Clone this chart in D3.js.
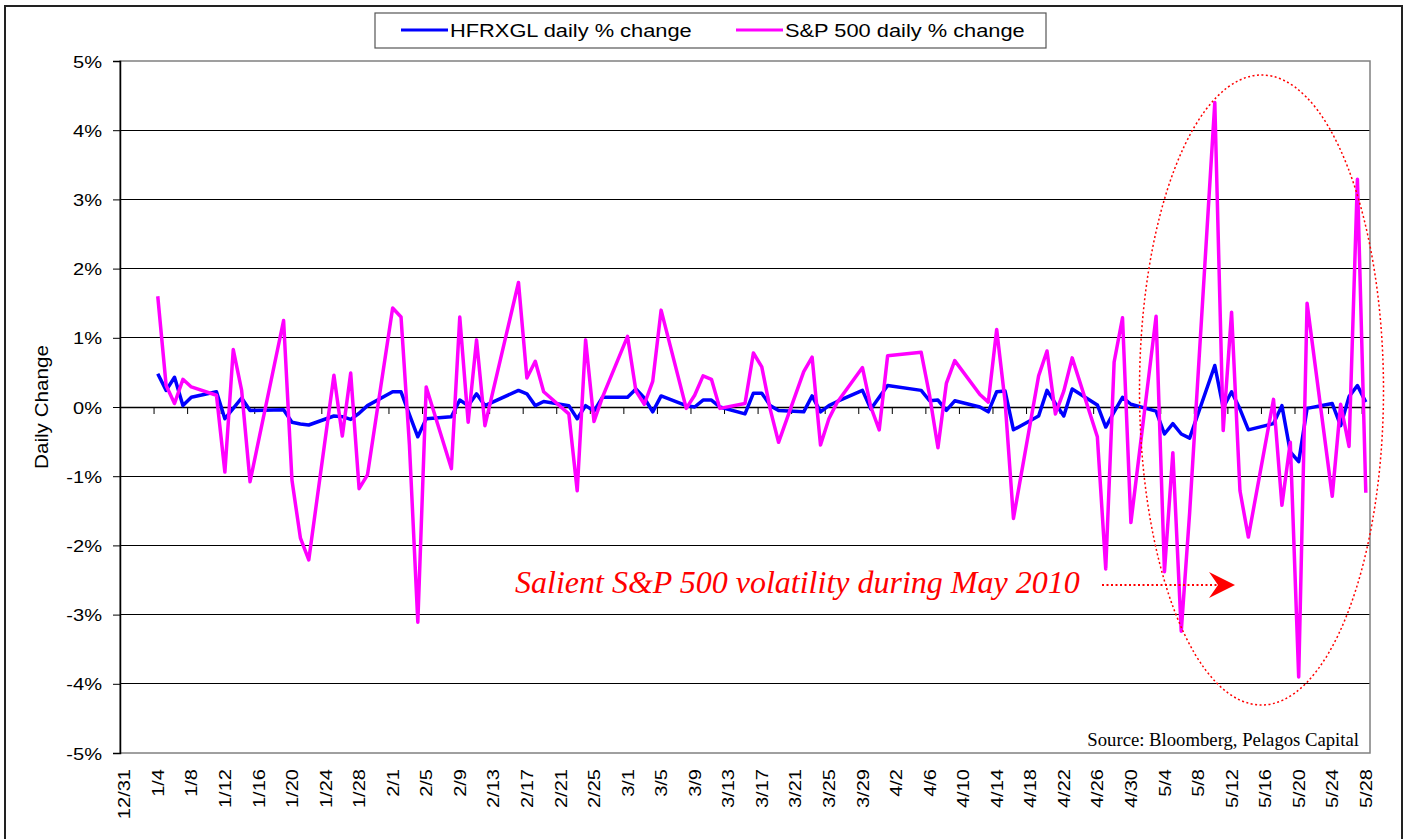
<!DOCTYPE html>
<html>
<head>
<meta charset="utf-8">
<script src="https://cdn.jsdelivr.net/npm/d3@7"></script>
<style>
  body { margin: 0; background: #fff; }
  svg { display: block; }
  .sans { font-family: Arial, "Liberation Sans", sans-serif; fill: #000; }
  .serif { font-family: "Times New Roman", "Liberation Serif", serif; }
</style>
</head>
<body>
<div id="chart"></div>
<script>
// trading days (Jan 4 - May 28 2010)
const dates = [
  '1/4','1/5','1/6','1/7','1/8','1/11','1/12','1/13','1/14','1/15','1/19','1/20','1/21','1/22','1/25','1/26','1/27','1/28','1/29',
  '2/1','2/2','2/3','2/4','2/5','2/8','2/9','2/10','2/11','2/12','2/16','2/17','2/18','2/19','2/22','2/23','2/24','2/25','2/26',
  '3/1','3/2','3/3','3/4','3/5','3/8','3/9','3/10','3/11','3/12','3/15','3/16','3/17','3/18','3/19','3/22','3/23','3/24','3/25','3/26','3/29','3/30','3/31',
  '4/1','4/5','4/6','4/7','4/8','4/9','4/12','4/13','4/14','4/15','4/16','4/19','4/20','4/21','4/22','4/23','4/26','4/27','4/28','4/29','4/30',
  '5/3','5/4','5/5','5/6','5/7','5/10','5/11','5/12','5/13','5/14','5/17','5/18','5/19','5/20','5/21','5/24','5/25','5/26','5/27','5/28'
];

// daily % change, S&P 500
const sp500Change = [
  1.60, 0.31, 0.05, 0.40, 0.29, 0.17, -0.94, 0.83, 0.24, -1.08, 1.25, -1.06, -1.89, -2.21, 0.46, -0.42, 0.49, -1.18, -0.98,
  1.43, 1.30, -0.55, -3.11, 0.29, -0.89, 1.30, -0.22, 0.97, -0.27, 1.80, 0.42, 0.66, 0.22, -0.10, -1.21, 0.97, -0.21, 0.14,
  1.02, 0.23, 0.04, 0.37, 1.40, -0.02, 0.17, 0.45, 0.40, -0.02, 0.05, 0.78, 0.58, -0.03, -0.51, 0.51, 0.72, -0.55, -0.17, 0.07, 0.57, 0.00, -0.33,
  0.74, 0.79, 0.17, -0.59, 0.34, 0.67, 0.18, 0.07, 1.12, 0.08, -1.61, 0.45, 0.81, -0.10, 0.23, 0.71, -0.43, -2.34, 0.65, 1.29, -1.67,
  1.31, -2.38, -0.66, -3.24, -1.53, 4.40, -0.34, 1.37, -1.21, -1.88, 0.11, -1.42, -0.51, -3.90, 1.50, -1.29, 0.04, -0.57, 3.29, -1.24
];

// daily % change, HFRX Global Hedge Fund index
const hfrxglChange = [
  0.48, 0.24, 0.43, 0.02, 0.14, 0.22, -0.17, -0.02, 0.13, -0.05, -0.04, -0.22, -0.245, -0.26, -0.13, -0.14, -0.18, -0.09, 0.02,
  0.22, 0.22, -0.11, -0.43, -0.17, -0.14, 0.10, 0.02, 0.19, 0.02, 0.24, 0.19, 0.02, 0.08, 0.02, -0.17, 0.02, -0.06, 0.14,
  0.14, 0.26, 0.13, -0.07, 0.16, 0.02, 0.00, 0.10, 0.10, 0.00, -0.10, 0.20, 0.20, 0.02, -0.05, -0.07, 0.16, -0.07, 0.02, 0.08, 0.24, -0.03, 0.14,
  0.31, 0.24, 0.09, 0.10, -0.05, 0.09, 0.00, -0.07, 0.22, 0.23, -0.33, -0.13, 0.24, 0.05, -0.13, 0.26, 0.03, -0.29, -0.07, 0.14, 0.04,
  -0.06, -0.39, -0.24, -0.39, -0.45, 0.60, -0.01, 0.22, -0.03, -0.33, -0.24, 0.02, -0.65, -0.79, -0.02, 0.05, -0.27, 0.15, 0.31, 0.07
];

const xTickLabels = [
  '12/31','1/4','1/8','1/12','1/16','1/20','1/24','1/28','2/1','2/5','2/9','2/13','2/17','2/21','2/25',
  '3/1','3/5','3/9','3/13','3/17','3/21','3/25','3/29','4/2','4/6','4/10','4/14','4/18','4/22','4/26','4/30',
  '5/4','5/8','5/12','5/16','5/20','5/24','5/28'
];
const yTickValues = [-5, -4, -3, -2, -1, 0, 1, 2, 3, 4, 5];

const seriesNames = ['HFRXGL daily % change', 'S&P 500 daily % change'];
const seriesColors = ['#0000ff', '#ff00ff'];
const yLabel = 'Daily Change';
const sourceLabel = 'Source: Bloomberg, Pelagos Capital';
const noteLabel = 'Salient S&P 500 volatility during May 2010';

// chart static params
const width = 1408, height = 839;
const plot = {left: 120, right: 1370, top: 61, bottom: 753};
const textStretch = 1.18;   // the sans labels in the original are a bit wide

const parseMD = s => {
  const [m, d] = s.split('/').map(Number);
  return new Date(Date.UTC(m === 12 ? 2009 : 2010, m - 1, d));
};
const midDay = dt => d3.utcHour.offset(dt, 12);

// set scales
const xScale = d3.scaleUtc()
    .domain([parseMD('12/31'), parseMD('5/29')])
    .range([plot.left, plot.right]);

const yScale = d3.scaleLinear()
    .domain([-5, 5])
    .range([plot.bottom, plot.top]);

const svg = d3.select('#chart')
  .append('svg')
    .attr('width', width)
    .attr('height', height);

// stretched text helper
const place = (sel, x, y, rot) =>
  sel.attr('transform', `translate(${x},${y})${rot ? ` rotate(${rot})` : ''} scale(${textStretch},1)`);

// outer chart border
svg.append('rect')
    .attr('x', 5).attr('y', 6)
    .attr('width', 1397).attr('height', 845)
    .attr('fill', 'none')
    .attr('stroke', '#222')
    .attr('stroke-width', 2);

// horizontal grid lines
svg.append('g')
  .selectAll('line')
  .data(yTickValues.filter(v => Math.abs(v) < 5))
  .join('line')
    .attr('x1', plot.left).attr('x2', plot.right)
    .attr('y1', d => yScale(d)).attr('y2', d => yScale(d))
    .attr('stroke', '#000')
    .attr('stroke-width', 1)
    .attr('shape-rendering', 'crispEdges');

// plot area border (gray)
svg.append('rect')
    .attr('x', plot.left).attr('y', plot.top)
    .attr('width', plot.right - plot.left).attr('height', plot.bottom - plot.top)
    .attr('fill', 'none')
    .attr('stroke', '#808080')
    .attr('stroke-width', 1.5);

// add Y axis
const yAxis = d3.axisLeft(yScale)
    .tickValues(yTickValues)
    .tickSize(7)
    .tickFormat(d => d + '%');
const yAxisSvg = svg.append('g')
    .attr('transform', `translate(${plot.left},0)`)
    .call(yAxis);
yAxisSvg.select('.domain').attr('stroke', '#000').attr('stroke-width', 1.5);
yAxisSvg.selectAll('.tick line').attr('stroke', '#000');
yAxisSvg.selectAll('.tick text')
    .attr('class', 'sans')
    .attr('font-size', 17)
    .attr('x', null).attr('dy', null)
    .each(function(d) { place(d3.select(this), -18, 0, 0); })
    .attr('dy', '0.36em');

// add X axis (crosses at 0)
const xTickDates = xTickLabels.map(parseMD);
const xAxis = d3.axisBottom(xScale)
    .tickValues(xTickDates)
    .tickSize(7)
    .tickSizeOuter(0)
    .tickFormat('');
const xAxisSvg = svg.append('g')
    .attr('transform', `translate(0,${yScale(0)})`)
    .call(xAxis);
xAxisSvg.select('.domain').attr('stroke', '#000').attr('stroke-width', 1.5);
xAxisSvg.selectAll('.tick line').attr('stroke', '#000');

// x tick labels, low position, rotated
svg.append('g')
  .selectAll('text')
  .data(xTickLabels)
  .join('text')
    .attr('class', 'sans')
    .attr('font-size', 17)
    .attr('text-anchor', 'end')
    .attr('dy', '0.36em')
    .each(function(d) { place(d3.select(this), xScale(midDay(parseMD(d))), 769, -90); })
    .text(d => d);

// add label left
svg.append('text')
    .attr('class', 'sans')
    .attr('font-size', 17.5)
    .attr('text-anchor', 'middle')
    .call(s => place(s, 48, yScale(0), -90))
    .text(yLabel);

// lines
const rows = dates.map((d, i) => ({date: midDay(parseMD(d)), hfrx: hfrxglChange[i], spx: sp500Change[i]}));
const lineOf = key => d3.line()
    .x(d => xScale(d.date))
    .y(d => yScale(d[key]));

const lineArea = svg.append('g');
[['hfrx', 0], ['spx', 1]].forEach(([key, i]) => {
  lineArea.append('path')
      .datum(rows)
      .attr('fill', 'none')
      .attr('stroke', seriesColors[i])
      .attr('stroke-width', 3.5)
      .attr('stroke-linejoin', 'round')
      .attr('d', lineOf(key));
});

// legend
const legend = svg.append('g');
legend.append('rect')
    .attr('x', 375).attr('y', 13)
    .attr('width', 671).attr('height', 35)
    .attr('fill', '#fff')
    .attr('stroke', '#555')
    .attr('stroke-width', 1.2);
const legendX = [401, 736];
seriesNames.forEach((name, i) => {
  legend.append('line')
      .attr('x1', legendX[i]).attr('x2', legendX[i] + 47)
      .attr('y1', 30).attr('y2', 30)
      .attr('stroke', seriesColors[i])
      .attr('stroke-width', 3);
  legend.append('text')
      .attr('class', 'sans')
      .attr('font-size', 18.5)
      .attr('dy', '0.36em')
      .call(s => place(s, legendX[i] + 49, 30, 0))
      .text(name);
});

// source note
svg.append('text')
    .attr('class', 'serif')
    .attr('font-size', 18.7)
    .attr('text-anchor', 'end')
    .attr('x', 1359).attr('y', 746)
    .text(sourceLabel);

// annotation: ellipse round May
svg.append('ellipse')
    .attr('cx', 1261.5).attr('cy', 390)
    .attr('rx', 122).attr('ry', 315)
    .attr('fill', 'none')
    .attr('stroke', '#ff0000')
    .attr('stroke-width', 1.5)
    .attr('stroke-dasharray', '2,2.5');

svg.append('text')
    .attr('class', 'serif')
    .attr('font-size', 32)
    .attr('font-style', 'italic')
    .attr('fill', '#ff0000')
    .attr('x', 515).attr('y', 593)
    .text(noteLabel);

svg.append('line')
    .attr('x1', 1102).attr('x2', 1217)
    .attr('y1', 585).attr('y2', 585)
    .attr('stroke', '#ff0000')
    .attr('stroke-width', 2)
    .attr('stroke-dasharray', '2,2.5');
svg.append('path')
    .attr('d', 'M1235,585 L1209,572 L1218,585 L1209,598 Z')
    .attr('fill', '#ff0000');
</script>
</body>
</html>
